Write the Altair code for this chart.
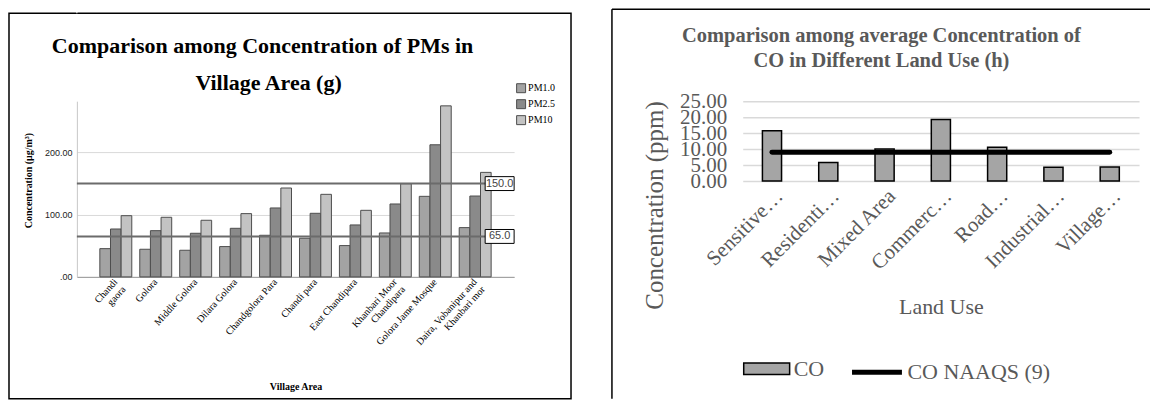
import altair as alt
import pandas as pd

# ---------------- data: left panel ----------------
villages = ["Chandi|gaora", "Golora", "Middle Golora", "Dilara Golora", "Chandgolora Para",
            "Chandi para", "East Chandipara", "Khanbari Moor|Chandipara", "Golora Jame Mosque",
            "Daira, Vobanipur and|Khanbari mor"]
pm_series = ["PM1.0", "PM2.5", "PM10"]
pm1 = [45.4, 44.4, 42.8, 48.7, 66.9, 62.1, 50.3, 70.6, 129.5, 79.2]
pm25 = [77.0, 74.3, 70.1, 78.1, 110.8, 102.2, 83.5, 117.2, 212.4, 130.0]
pm10 = [98.4, 95.8, 91.0, 101.7, 142.9, 132.7, 107.0, 149.8, 275.0, 168.0]
pm_limits = [150.0, 65.0]
pm_limit_labels = ["150.0", "65.0"]
left_title = ["Comparison among Concentration of PMs in", "Village Area (g)"]

# ---------------- data: right panel ----------------
land_use = ["Sensitive…", "Residenti…", "Mixed Area", "Commerc…", "Road…", "Industrial…", "Village…"]
co = [15.75, 5.8, 10.0, 19.3, 10.6, 4.3, 4.4]
co_naaqs = 9
right_title = ["Comparison among average Concentration of", "CO in Different Land Use (h)"]

SERIF = "Liberation Serif"
GREY_TXT = "#595959"

# ================= left panel =================
rows = []
for i, v in enumerate(villages):
    for s, arr in zip(pm_series, [pm1, pm25, pm10]):
        rows.append({"village": v, "series": s, "value": arr[i]})
pm_df = pd.DataFrame(rows)
lim_df = pd.DataFrame({"limit": pm_limits, "label": pm_limit_labels})
one = pd.DataFrame({"a": [0]})

W1, H1 = 438, 176

x_left = alt.X("village:N", sort=villages,
               scale=alt.Scale(paddingInner=0.2, paddingOuter=0.575),
               axis=alt.Axis(title="Village Area", labelExpr="split(datum.label, '|')",
                             labelAngle=-48, labelFont=SERIF, labelFontSize=10, labelColor="#000",
                             labelLineHeight=11, ticks=False, domainColor="#999999", domainWidth=1,
                             labelPadding=3, titleFont=SERIF, titleFontWeight="bold", titleFontSize=10,
                             titleColor="#000", titleY=110, titleBaseline="middle"))
y_left = alt.Y("value:Q", scale=alt.Scale(domain=[0, 282.5], nice=False),
               axis=alt.Axis(title="Concentration (µg/m³)", values=[0, 100, 200],
                             labelExpr="datum.value == 0 ? '.00' : format(datum.value, '.2f')",
                             grid=True, gridColor="#d9d9d9", domainColor="#c8c8c8", ticks=False,
                             labelFont="Liberation Sans", labelFontSize=9, labelColor="#222",
                             labelPadding=5, titleFont=SERIF, titleFontWeight="bold", titleFontSize=10,
                             titleColor="#000", titleX=-48, titleY=79, titleBaseline="middle"))

bars_left = alt.Chart(pm_df).mark_bar(stroke="#4d4d4d", strokeWidth=1).encode(
    x=x_left, y=y_left,
    xOffset=alt.XOffset("series:N", sort=pm_series),
    color=alt.Color("series:N", sort=pm_series,
                    scale=alt.Scale(domain=pm_series, range=["#a3a3a3", "#8a8a8a", "#c3c3c3"]),
                    legend=alt.Legend(orient="none", legendX=440, legendY=-18, title=None,
                                      symbolType="square", symbolSize=81, symbolStrokeColor="#4d4d4d",
                                      symbolStrokeWidth=1, symbolOpacity=1, labelFont=SERIF, labelFontSize=10,
                                      labelColor="#000", rowPadding=2, labelOffset=2, padding=0)))

rules_left = alt.Chart(lim_df).mark_rule(color="#6b6b6b", strokeWidth=2).encode(y="limit:Q")
boxes_left = alt.Chart(lim_df).mark_point(shape="M-1,-0.48H1V0.48H-1Z", size=841, fill="white",
                                          stroke="#000", strokeWidth=1, opacity=1, fillOpacity=1).encode(
    x=alt.value(423.5), y="limit:Q")
box_text_left = alt.Chart(lim_df).mark_text(font="Liberation Sans", fontSize=11, color="#444").encode(
    x=alt.value(423.5), y="limit:Q", text="label:N")

title_l1 = alt.Chart(one).mark_text(text=left_title[0], font=SERIF, fontSize=22, fontWeight="bold",
                                    color="#000", baseline="alphabetic").encode(x=alt.value(186), y=alt.value(-48))
title_l2 = alt.Chart(one).mark_text(text=left_title[1], font=SERIF, fontSize=22, fontWeight="bold",
                                    color="#000", baseline="alphabetic").encode(x=alt.value(192), y=alt.value(-11))
frame_left = alt.Chart(one).mark_rect(fill=None, stroke="#000", strokeWidth=1.5).encode(
    x=alt.value(-68), x2=alt.value(495), y=alt.value(-88), y2=alt.value(298))
spacer_left = alt.Chart(one).mark_rule(color="white", strokeWidth=1).encode(
    x=alt.value(0), y=alt.value(-90.75), y2=alt.value(-88))

left = alt.layer(bars_left, rules_left, boxes_left, box_text_left, title_l1, title_l2,
                 frame_left, spacer_left).properties(width=W1, height=H1)

# ================= right panel =================
co_df = pd.DataFrame({"land": land_use, "co": co, "s": ["CO"] * len(land_use)})
naaqs_df = pd.DataFrame({"land": land_use, "co": [co_naaqs] * len(land_use),
                         "s": ["CO NAAQS (9)"] * len(land_use)})
W2, H2 = 397, 80

x_right = alt.X("land:N", sort=land_use, scale=alt.Scale(paddingInner=0.66, paddingOuter=0.35),
                axis=alt.Axis(title="Land Use", labelAngle=-45, labelFont=SERIF, labelFontSize=21,
                              labelColor=GREY_TXT, ticks=False, domain=False, labelPadding=4,
                              titleFont=SERIF, titleFontSize=22, titleFontWeight="normal",
                              titleColor=GREY_TXT, titleY=126, titleBaseline="middle"))
y_right = alt.Y("co:Q", scale=alt.Scale(domain=[0, 25], nice=False),
                axis=alt.Axis(values=[0, 5, 10, 15, 20, 25], format=".2f", labelOverlap=False,
                              labelFont=SERIF, labelFontSize=21, labelColor=GREY_TXT, labelPadding=16,
                              ticks=False, domain=False, grid=True, gridColor="#d9d9d9", gridWidth=1.5,
                              title="Concentration (ppm)", titleFont=SERIF, titleFontSize=25,
                              titleFontWeight="normal", titleColor=GREY_TXT, titleX=-88, titleY=104,
                              titleBaseline="middle"))

bars_right = alt.Chart(co_df).mark_bar(stroke="#000", strokeWidth=1.5).encode(
    x=x_right, y=y_right,
    fill=alt.Fill("s:N", scale=alt.Scale(domain=["CO"], range=["#a5a5a5"]),
                  legend=alt.Legend(orient="none", legendX=0, legendY=244, title=None,
                                    symbolType="M-1,-0.25H1V0.25H-1Z", symbolSize=2116,
                                    symbolStrokeColor="#000", symbolStrokeWidth=1.5, symbolOpacity=1,
                                    labelFont=SERIF, labelFontSize=22, labelColor=GREY_TXT,
                                    labelOffset=3, padding=0)))
line_right = alt.Chart(naaqs_df).mark_line(strokeWidth=5, strokeCap="round").encode(
    x=x_right, y=y_right,
    stroke=alt.Stroke("s:N", scale=alt.Scale(domain=["CO NAAQS (9)"], range=["#000000"]),
                      legend=alt.Legend(orient="none", legendX=107, legendY=244, title=None,
                                        symbolType="stroke", symbolSize=2500, symbolStrokeWidth=5,
                                        labelFont=SERIF, labelFontSize=22, labelColor=GREY_TXT,
                                        labelOffset=3, padding=0)))

title_r1 = alt.Chart(one).mark_text(text=right_title[0], font=SERIF, fontSize=20.5, fontWeight="bold",
                                    color=GREY_TXT, baseline="alphabetic").encode(x=alt.value(139), y=alt.value(-59))
title_r2 = alt.Chart(one).mark_text(text=right_title[1], font=SERIF, fontSize=20.5, fontWeight="bold",
                                    color=GREY_TXT, baseline="alphabetic").encode(x=alt.value(139), y=alt.value(-34))
frame_r_top = alt.Chart(one).mark_rule(color="#000", strokeWidth=1.5).encode(
    x=alt.value(-131), x2=alt.value(408), y=alt.value(-92))
frame_r_left = alt.Chart(one).mark_rule(color="#000", strokeWidth=1.5).encode(
    x=alt.value(-131), y=alt.value(-92), y2=alt.value(298))

right = alt.layer(bars_right, line_right, title_r1, title_r2, frame_r_top, frame_r_left).resolve_scale(
    fill="independent", stroke="independent").properties(width=W2, height=H2)

chart = alt.hconcat(left, right, spacing=39).properties(
    padding={"left": 0, "top": 0, "right": 0, "bottom": 0}, background="white"
).configure_view(stroke=None)

chart.save("out.html", embed_options={"renderer": "svg", "actions": False})
